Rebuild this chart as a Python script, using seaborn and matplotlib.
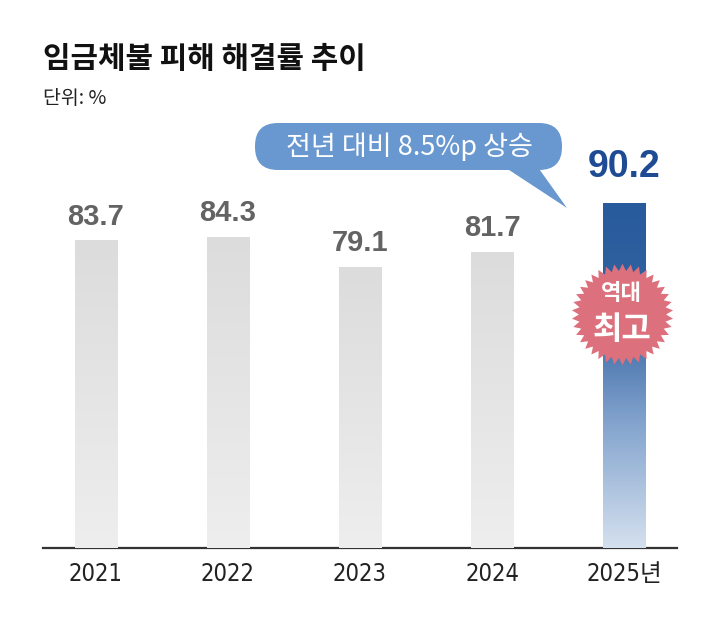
import numpy as np
import matplotlib
matplotlib.use("Agg")
import matplotlib.pyplot as plt
import seaborn as sns
from matplotlib.colors import LinearSegmentedColormap
from matplotlib.patches import FancyBboxPatch, Polygon
from matplotlib.path import Path
from matplotlib.transforms import IdentityTransform

# ----------------------------
# 데이터
# ----------------------------
years = ["2021", "2022", "2023", "2024", "2025년"]
rates = [83.7, 84.3, 79.1, 81.7, 90.2]
value_labels = ["83.7", "84.3", "79.1", "81.7", "90.2"]
title = "임금체불 피해 해결률 추이"
unit = "단위: %"
bubble_text = "전년 대비 8.5%p 상승"
badge_top, badge_bottom = "역대", "최고"

sns.set_theme(style="white")
plt.rcParams["font.family"] = ["Noto Sans CJK KR", "DejaVu Sans"]

W, H = 720, 624
fig = plt.figure(figsize=(W / 100, H / 100), dpi=100)
fig.patch.set_facecolor("white")
ax = fig.add_axes([43 / W, 76 / H, 634 / W, 448 / H])

sns.barplot(x=years, y=rates, width=0.32, color="#e0e0e0", ax=ax, saturation=1)
ax.set_ylim(30, 108.2)
ax.set_xlim(-0.40, 4.40)

# 그라데이션 막대
gray_cmap = LinearSegmentedColormap.from_list("g", ["#eeeeee", "#dcdcdc"])
blue_cmap = LinearSegmentedColormap.from_list(
    "b", [(0, "#d4e0ee"), (0.35, "#86a6cf"), (0.68, "#3363a2"), (1, "#285b9c")])
grad = np.linspace(0, 1, 256).reshape(-1, 1)
for i, bar in enumerate(ax.patches):
    x0, y0 = bar.get_x(), bar.get_y()
    w, h = bar.get_width(), bar.get_height()
    ylo = ax.get_ylim()[0]
    cmap = blue_cmap if i == len(rates) - 1 else gray_cmap
    im = ax.imshow(grad, cmap=cmap, aspect="auto", origin="lower",
                   extent=(x0, x0 + w, ylo, y0 + h), zorder=3)
    im.set_clip_path(bar)

# 값 라벨
for i, (v, lab) in enumerate(zip(rates, value_labels)):
    last = i == len(rates) - 1
    ax.annotate(lab, (i, v), xytext=(0, 13 if last else 7), textcoords="offset points",
                ha="center", va="bottom", fontsize=27 if last else 21, fontweight="bold",
                color="#1f4b94" if last else "#636363",
                family=["Liberation Sans", "DejaVu Sans"], zorder=5)

# 축 스타일
for s in ["left", "right", "top"]:
    ax.spines[s].set_visible(False)
ax.spines["bottom"].set_color("#333333")
ax.spines["bottom"].set_linewidth(1.6)
ax.set_yticks([])
ax.set_ylabel("")
ax.set_xlabel("")
ax.tick_params(axis="x", length=0, pad=10)
for t in ax.get_xticklabels():
    t.set_fontsize(17)
    t.set_family(["DejaVu Sans", "Noto Sans CJK KR"])
    t.set_fontstretch("condensed")
    t.set_color("#222222")

# 역대 최고 배지
n = 38
ang = np.linspace(0, 2 * np.pi, 2 * n, endpoint=False) + np.pi / 2
rad = np.where(np.arange(2 * n) % 2 == 0, 1.0, 0.86)
verts = np.column_stack([rad * np.cos(ang), rad * np.sin(ang)])
verts = np.vstack([verts, verts[:1]])
star = Path(verts, closed=True)
ax.plot([3.98], [70.8], marker=star, markersize=73, color="#dc717d",
        markeredgewidth=0, zorder=6, clip_on=False)
ax.annotate(badge_top, (3.98, 70.8), xytext=(0, 15), textcoords="offset points",
            ha="center", va="center", fontsize=16, fontweight="bold", color="white", zorder=7)
ax.annotate(badge_bottom, (3.98, 70.8), xytext=(0, -11), textcoords="offset points",
            ha="center", va="center", fontsize=23, fontweight="bold", color="white", zorder=7)

# 말풍선
bubble_color = "#6898cf"
box = FancyBboxPatch((255, H - 170), 307, 47, boxstyle="round,pad=0,rounding_size=23",
                     transform=IdentityTransform(), fc=bubble_color, ec="none")
fig.add_artist(box)
tail = Polygon([(503, H - 166), (537, H - 166), (567, H - 208)], closed=True,
               transform=IdentityTransform(), fc=bubble_color, ec="none")
fig.add_artist(tail)
fig.text(409 / W, 1 - 147 / H, bubble_text, ha="center", va="center",
         fontsize=19.5, color="white", fontweight="medium")

# 제목
fig.text(43 / W, 1 - 59 / H, title, ha="left", va="center", fontsize=21.5,
         fontweight="bold", color="#111111")
fig.text(43 / W, 1 - 99 / H, unit, ha="left", va="center", fontsize=14,
         color="#222222")

fig.savefig("out.png", dpi=100)
